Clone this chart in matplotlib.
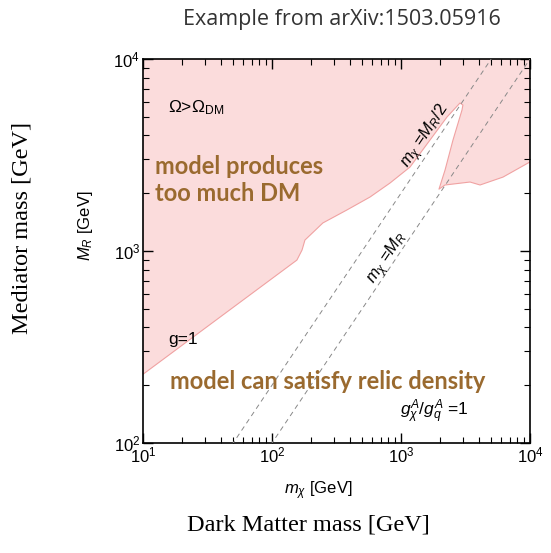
import matplotlib
matplotlib.use('Agg')
import matplotlib.pyplot as plt
import numpy as np

plt.rcParams['mathtext.fontset'] = 'custom'
plt.rcParams['mathtext.rm'] = 'Liberation Sans'
plt.rcParams['mathtext.it'] = 'Liberation Sans:italic'
plt.rcParams['mathtext.bf'] = 'Liberation Sans:bold'
plt.rcParams['font.family'] = ['Liberation Sans', 'DejaVu Sans']

# boundary of the "too much DM" region (Omega > Omega_DM)
bound_mx = [10, 156, 171, 180, 248, 381, 575, 822, 1175, 1679, 2274, 2865,
            3020, 2970, 2530, 2195, 1970, 2195, 3430, 4100, 6180, 10000]
bound_mr = [228, 897, 1012, 1140, 1400, 1636, 1910, 2260, 2738, 3786, 4990,
            5900, 5760, 5420, 3786, 2640, 2100, 2207, 2287, 2207, 2427, 2910]

x_ticks = [1e1, 1e2, 1e3, 1e4]
x_labels = ['$10^1$', '$10^2$', '$10^3$', '$10^4$']
y_ticks = [1e2, 1e3, 1e4]
y_labels = ['$10^2$', '$10^3$', '$10^4$']

mass_range = np.array([10.0, 10000.0])

pink = '#fbdcdc'
pink_edge = '#f0a2a2'
brown = '#9a6a2f'

fig = plt.figure(figsize=(5.51, 5.53), dpi=100)
ax = fig.add_axes([143 / 551, 1 - 443 / 553, 387 / 551, 384 / 553])
ax.set_xscale('log')
ax.set_yscale('log')
ax.set_xlim(10, 1e4)
ax.set_ylim(100, 1e4)

# excluded region
poly_x = bound_mx + [1e4, 10]
poly_y = bound_mr + [1e4, 1e4]
ax.fill(poly_x, poly_y, color=pink, lw=0, zorder=1)
ax.plot(bound_mx, bound_mr, color=pink_edge, lw=0.8, zorder=2)

# kinematic lines
ax.plot(mass_range, mass_range, color='#888888', lw=0.7, dashes=(5, 4), zorder=3)
ax.plot(mass_range, 2 * mass_range, color='#888888', lw=0.7, dashes=(5, 4), zorder=3)

# ticks
ax.set_xticks(x_ticks)
ax.set_xticklabels(x_labels)
ax.set_yticks(y_ticks)
ax.set_yticklabels(y_labels)
ax.tick_params(which='both', direction='in', top=True, right=True,
               labelsize=12, pad=2)
ax.tick_params(which='major', length=7, width=1)
ax.tick_params(which='minor', length=4, width=0.8)
for sp in ax.spines.values():
    sp.set_linewidth(1.2)

ax.set_xlabel(r'$m_\chi$ [GeV]', fontsize=12)
ax.set_ylabel(r'$M_R$ [GeV]', fontsize=12)
ax.xaxis.set_label_coords(0.452, -0.095)
ax.yaxis.set_label_coords(-0.125, 0.565)

# annotations
ax.text(15.6, 5560, r'$\Omega$>$\Omega_{\rm DM}$', fontsize=12.5,
        va='center', ha='left')
ax.text(12.4, 2345, 'model produces\ntoo much DM', fontsize=17,
        family='Lato', weight='bold', color=brown, va='center', ha='left',
        linespacing=1.2)
ax.text(15.6, 344, 'g=1', fontsize=12.5, va='center', ha='left')
ax.text(16.2, 208, 'model can satisfy relic density', fontsize=17,
        family='Lato', weight='bold', color=brown, va='center', ha='left')
ax.text(977, 145, r'$g_\chi^A/g_q^A$ =1', fontsize=12.5, va='center', ha='left')
ax.text(1563, 3926, r'$m_\chi$ =$M_R$/2', fontsize=12, rotation=56,
        ha='center', va='center', rotation_mode='anchor')
ax.text(792, 920, r'$m_\chi$ =$M_R$', fontsize=12, rotation=56,
        ha='center', va='center', rotation_mode='anchor')

# outer labels
fig.text(342 / 551, 1 - 20 / 553, 'Example from arXiv:1503.05916', fontsize=15.5,
         family='Open Sans', color='#333333', ha='center', va='center')
fig.text(22 / 551, 1 - 228 / 553, 'Mediator mass [GeV]', fontsize=17.5,
         family='Liberation Serif', rotation=90, ha='center', va='center')
fig.text(308 / 551, 1 - 525 / 553, 'Dark Matter mass [GeV]', fontsize=17.5,
         family='Liberation Serif', ha='center', va='center')

fig.savefig('out.png', dpi=100)
